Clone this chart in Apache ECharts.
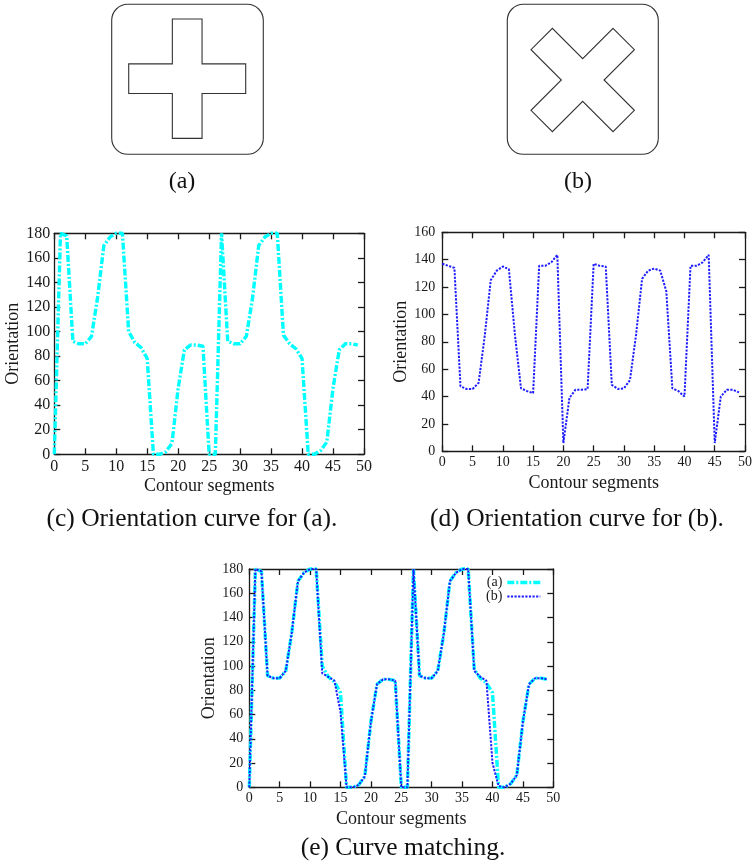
<!DOCTYPE html>
<html>
<head>
<meta charset="utf-8">
<script src="https://cdn.jsdelivr.net/npm/echarts@6/dist/echarts.min.js"></script>
<style>
  html, body { margin: 0; padding: 0; background: #fff; }
  #chart { width: 755px; height: 867px; }
</style>
</head>
<body>
<div id="chart"></div>
<script>
// Contour segment index (x axis of every orientation curve)
const segments = [0,1,2,3,4,5,6,7,8,9,10,11,12,13,14,15,16,17,18,19,20,21,22,23,24,
                  25,26,27,28,29,30,31,32,33,34,35,36,37,38,39,40,41,42,43,44,45,46,47,48,49];

// Orientation (degrees) of each segment of the plus-shaped contour
const orientA = [0,180,178,92,90,90,96,128,170,177,180,180,100,91,87,78,0,0,2,9,
                 54,85,89,89,88,0,0,180,92,90,90,96,127,170,177,180,180,97,90,86,
                 78,0,0,3,10,54,85,90,90,89];

// Orientation (degrees) of each segment of the X-shaped contour
const orientB = [137,135.5,134,47.5,45.5,45.5,50,84,125,132,135,133,85,46,44,42.5,135.5,135.5,138,143.5,
                 6,39,45,45,45.5,137,135.5,135,48.5,45.5,46,52,85,126,132,133.5,132,117,46,44,
                 40,135.5,135.5,138,143.5,6,40,45,45,43];

// X-shaped contour curve after alignment onto the plus-shaped one
const orientBMatched = [0,180,178,92,90,90,96,128,170,177,180,180,94,91,88,62,0,0,2,9,
                        54,85,89,89,88,0,0,180,92,90,90,96,127,170,177,180,180,96,91,88,
                        20,1,0,3,10,54,85,90,90,89];

const xTicks = [0, 50, 5];          // min, max, step of the segment axis
const yTicksC = [0, 180, 20];
const yTicksD = [0, 160, 20];
const yTicksE = [0, 180, 20];

const captions = ['(a)', '(b)', '(c) Orientation curve for (a).', '(d) Orientation curve for (b).', '(e) Curve matching.'];
const seriesNames = ['(a)', '(b)'];

const SERIF = '"Liberation Serif", "Times New Roman", serif';
const INK = '#1a1a1a';

function pairs(ys) { return segments.map((x, i) => [x, ys[i]]); }

// Polygon of a cross centred on (cx, cy): arm half-width w, arm half-lengths lx, ly, rotated by ang
function crossPoints(cx, cy, w, lx, ly, ang) {
  const base = [[-w,-ly],[w,-ly],[w,-w],[lx,-w],[lx,w],[w,w],[w,ly],[-w,ly],[-w,w],[-lx,w],[-lx,-w],[-w,-w]];
  const c = Math.cos(ang), s = Math.sin(ang);
  return base.map(([x, y]) => [cx + x * c - y * s, cy + x * s + y * c]);
}

function frameAxis(gridIndex, pos, range, opts) {
  const primary = pos === 'bottom' || pos === 'left';
  return Object.assign({
    type: 'value', gridIndex, position: pos,
    min: range[0], max: range[1], interval: range[2],
    axisLine: { show: true, onZero: false, lineStyle: { color: INK, width: 1.3 } },
    axisTick: { show: true, inside: true, length: 6, lineStyle: { color: INK, width: 1.3 } },
    axisLabel: { show: primary, color: INK, fontFamily: SERIF, fontSize: 15, margin: 4 },
    splitLine: { show: false }
  }, opts || {});
}

const nameStyle = { color: INK, fontFamily: SERIF, fontSize: 18 };

const grids = [
  { left: 54.3, top: 233.3, width: 309.7, height: 221 },
  { left: 442.3, top: 232.3, width: 304.4, height: 219 },
  { left: 249.3, top: 569, width: 304, height: 218.3 }
];

const xAxes = [], yAxes = [];
const yRanges = [yTicksC, yTicksD, yTicksE];
const yLabelMargin = [4, 7, 6];
const yLabelSize = [16, 14, 14];
const yNameGap = [23, 24, 25];
grids.forEach((g, i) => {
  xAxes.push(frameAxis(i, 'bottom', xTicks, {
    name: 'Contour segments', nameLocation: 'middle', nameGap: 23, nameTextStyle: nameStyle,
    axisLabel: { show: true, color: INK, fontFamily: SERIF, fontSize: yLabelSize[i], margin: 4 }
  }));
  xAxes.push(frameAxis(i, 'top', xTicks));
  yAxes.push(frameAxis(i, 'left', yRanges[i], {
    name: 'Orientation', nameLocation: 'middle', nameGap: yNameGap[i], nameTextStyle: nameStyle,
    axisLabel: { show: true, color: INK, fontFamily: SERIF, fontSize: yLabelSize[i], margin: yLabelMargin[i] }
  }));
  yAxes.push(frameAxis(i, 'right', yRanges[i]));
});

const cyanLine = { color: '#00ffff', width: 3.4, type: [7, 2, 2, 2], cap: 'butt' };
const blueLine = { color: '#1c1cff', width: 2, type: [2.2, 1.4], cap: 'butt' };

function lineSeries(name, data, gi, style) {
  return {
    name, type: 'line', data: pairs(data),
    xAxisIndex: gi * 2, yAxisIndex: gi * 2,
    symbol: 'none', smooth: false, clip: false, animation: false,
    lineStyle: style, itemStyle: { color: style.color }
  };
}

const boxStyle = { stroke: '#333', lineWidth: 1.1, fill: 'none' };
const capFont = '25.5px ' + SERIF;

const option = {
  backgroundColor: '#fff',
  animation: false,
  grid: grids,
  xAxis: xAxes,
  yAxis: yAxes,
  legend: {
    data: [
      { name: seriesNames[0], lineStyle: cyanLine },
      { name: seriesNames[1], lineStyle: blueLine }
    ],
    orient: 'vertical', align: 'right',
    right: 208, top: 570.5,
    itemWidth: 33, itemHeight: 14, itemGap: 0,
    itemStyle: { opacity: 0 },
    textStyle: { color: INK, fontFamily: SERIF, fontSize: 14, lineHeight: 14 }
  },
  series: [
    lineSeries('(a) ', orientA, 0, cyanLine),
    lineSeries('(b) ', orientB, 1, blueLine),
    lineSeries(seriesNames[0], orientA, 2, cyanLine),
    lineSeries(seriesNames[1], orientBMatched, 2, blueLine)
  ],
  graphic: [
    { type: 'rect', shape: { x: 111.7, y: 4.3, width: 151.6, height: 150, r: 16 }, style: boxStyle },
    { type: 'polygon', shape: { points: crossPoints(187.2, 78.7, 14.85, 58.5, 59.7, 0) }, style: boxStyle },
    { type: 'rect', shape: { x: 507.3, y: 4.3, width: 151, height: 150, r: 16 }, style: boxStyle },
    { type: 'polygon', shape: { points: crossPoints(582.7, 80, 15.1, 58, 58, Math.PI / 4) }, style: boxStyle },
    { type: 'text', x: 182, y: 182, style: { text: captions[0], font: '24px ' + SERIF, fill: '#111', textAlign: 'center', textVerticalAlign: 'middle' } },
    { type: 'text', x: 578, y: 182, style: { text: captions[1], font: '24px ' + SERIF, fill: '#111', textAlign: 'center', textVerticalAlign: 'middle' } },
    { type: 'text', x: 192, y: 519, style: { text: captions[2], font: capFont, fill: '#111', textAlign: 'center', textVerticalAlign: 'middle' } },
    { type: 'text', x: 577, y: 519, style: { text: captions[3], font: capFont, fill: '#111', textAlign: 'center', textVerticalAlign: 'middle' } },
    { type: 'text', x: 403, y: 848, style: { text: captions[4], font: capFont, fill: '#111', textAlign: 'center', textVerticalAlign: 'middle' } }
  ]
};

const chart = echarts.init(document.getElementById('chart'), null, { renderer: 'canvas' });
chart.setOption(option);
</script>
</body>
</html>
